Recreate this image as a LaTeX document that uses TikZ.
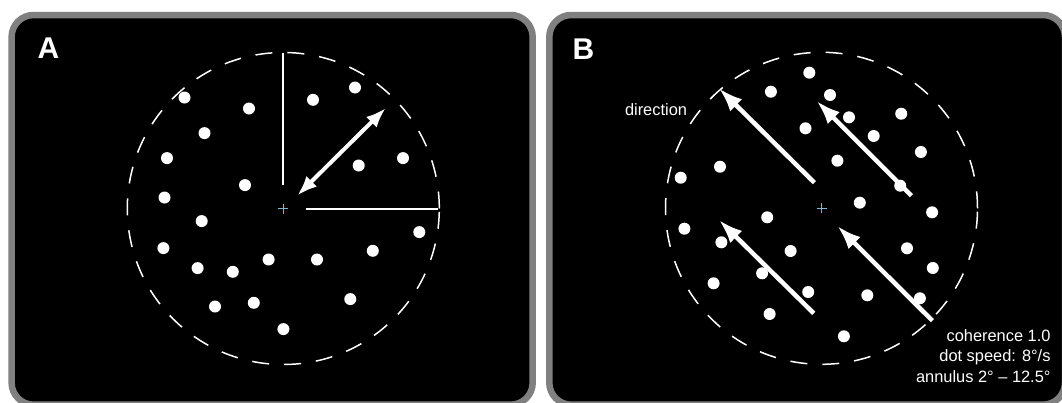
\documentclass[tikz,border=0pt]{standalone}
\usepackage{fontspec}
\setmainfont{Liberation Sans}
\usetikzlibrary{arrows.meta,calc,positioning}
\definecolor{panelgray}{RGB}{128,128,128}
\definecolor{fixblue}{RGB}{125,182,212}

\begin{document}
\begin{tikzpicture}[
  x=1pt, y=-1pt,
  >=Latex,
  panel/.style={draw=panelgray, line width=6.5pt, fill=black, rounded corners=22pt},
  aperture/.style={draw=white, line width=1.5pt, dash pattern=on 17pt off 15pt},
  dot/.style={fill=white},
  fixcross/.style={draw=fixblue, line width=1.2pt},
  motion/.style={-{Latex[length=24pt,width=17pt]}, draw=white, line width=4.5pt},
  spanarrow/.style={{Latex[length=20pt,width=15pt]}-{Latex[length=20pt,width=15pt]}, draw=white, line width=4pt},
  radius line/.style={draw=white, line width=2pt},
  letter/.style={font=\fontsize{30}{30}\selectfont\bfseries, text=white, inner sep=0pt},
  label/.style={font=\fontsize{16.4}{20.8}\selectfont, text=white, inner sep=0pt}
]
  \fill[white] (0,0) rectangle (1062,402);
  \useasboundingbox (0,0) rectangle (1062,402);

  % panel A: annulus and its radii
  \draw[panel] (11.6,15) rectangle (532.7,404.7);
  \node[letter] (letterA) at (48.5,48) {A};
  \begin{scope}[shift={(283.3,208.5)}]
    \draw[aperture] (0,0) circle[radius=156pt];
    \foreach \p in {(-98.8,-111),(-34.3,-100),(29.7,-108.7),(71.7,-121),
                    (-78.8,-75.4),(-116.3,-50.4),(75.4,-43),(119.7,-50.4),
                    (-38.3,-23.4),(-118.8,-11),(-81.6,12.6),(136,23.6),
                    (-119.9,39.6),(-85.7,59.6),(-50.5,63.3),(-14.7,51),
                    (33.7,51),(89.5,42.3),(-68.3,98),(-29.5,94.3),
                    (67,90.6),(0.1,120.6)}
      \fill[dot] \p circle[radius=6pt];
    \coordinate (vtop) at (0,-155.7);
    \coordinate (vbot) at (0,-23.5);
    \coordinate (hin) at (22.4,0);
    \coordinate (hout) at (154.7,0);
    \coordinate (rin) at (14,-13);
    \coordinate (rout) at (102.4,-100.4);
    \draw[radius line] (vtop) -- (vbot);
    \draw[radius line] (hin) -- (hout);
    \draw[spanarrow] (rin) -- (rout);
    \draw[fixcross] (-5,0) -- (5,0) (0,-5) -- (0,5);
  \end{scope}

  % panel B: coherent motion
  \draw[panel] (549.3,15) rectangle (1065,404.7);
  \node[letter] (letterB) at (583.5,49) {B};
  \begin{scope}[shift={(821.5,208.3)}]
    \draw[aperture] (0,0) circle[radius=156pt];
    \foreach \p in {(-12.2,-135.6),(-50.6,-116.6),(8.5,-113.3),(27.5,-91),
                    (79.7,-94.6),(-16,-80),(52.2,-72.3),(99.4,-56.3),
                    (15.9,-47.6),(-101.5,-41.6),(-140.8,-30.6),(78.7,-22.6),
                    (38.3,-5.6),(110.6,4),(-54.3,9),(-137.1,20.4),
                    (-100.1,34),(-30.9,42.7),(85.5,40),(111.3,59.7),
                    (-59.4,65),(-107.9,75),(-13.3,83.7),(45.8,87),
                    (98.4,90),(-51.9,105.7),(22.4,128)}
      \fill[dot] \p circle[radius=6pt];
    \coordinate (tail1) at (-7.1,-25.6);
    \coordinate (tip1) at (-102.5,-120);
    \coordinate (tail2) at (89.9,-12.6);
    \coordinate (tip2) at (-4.8,-107.3);
    \coordinate (tail3) at (-7.8,105);
    \coordinate (tip3) at (-102.5,11.7);
    \coordinate (tail4) at (110.9,112.4);
    \coordinate (tip4) at (15.9,17.7);
    \foreach \i in {1,...,4}
      \draw[motion] (tail\i) -- (tip\i);
    \draw[fixcross] (-5,0) -- (5,0) (0,-5) -- (0,5);
    \node[label] (direction) at (-165.5,-98.3) {direction};
    \node[label, align=right, anchor=east] (params) at (229.2,147.7)
      {coherence 1.0\\dot speed: 8°/s\\annulus 2° – 12.5°};
  \end{scope}
\end{tikzpicture}
\end{document}
